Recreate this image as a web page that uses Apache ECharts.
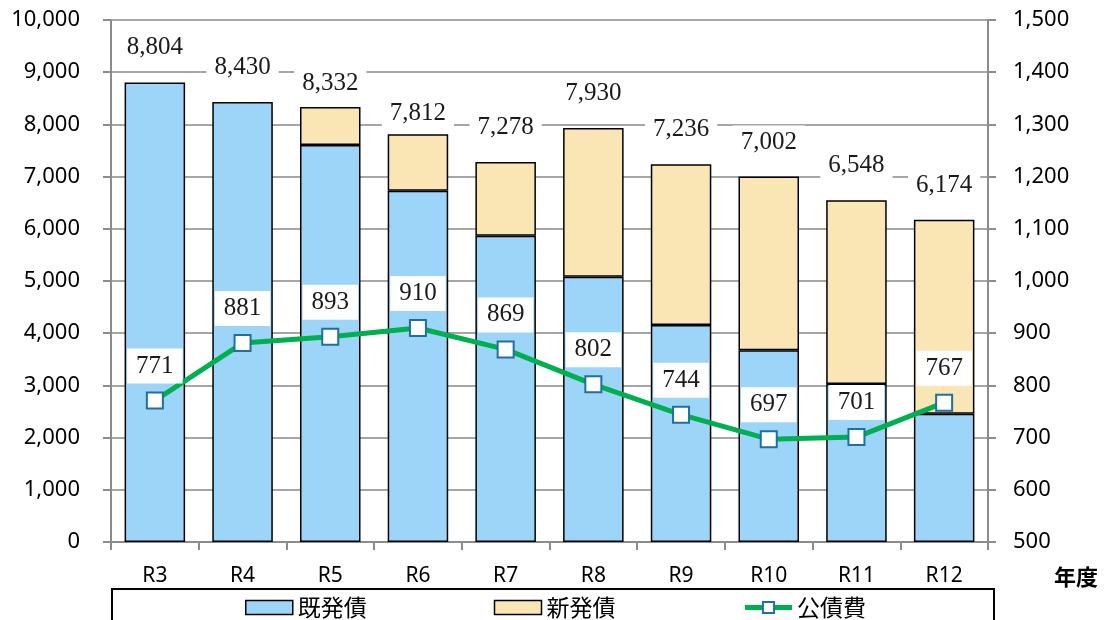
<!DOCTYPE html>
<html>
<head>
<meta charset="utf-8">
<script src="https://cdn.jsdelivr.net/npm/echarts@6/dist/echarts.min.js"></script>
<style>
  html, body { margin: 0; padding: 0; background: #ffffff; }
  #chart { width: 1105px; height: 620px; }
</style>
</head>
<body>
<div id="chart"></div>
<script>
// 年度
const categories = ['R3', 'R4', 'R5', 'R6', 'R7', 'R8', 'R9', 'R10', 'R11', 'R12'];
// 既発債 (left axis)
const existingDebt = [8804, 8430, 7605, 6730, 5868, 5083, 4157, 3672, 3027, 2458];
// 新発債 (left axis, stacked on 既発債)
const newDebt = [0, 0, 727, 1082, 1410, 2847, 3079, 3330, 3521, 3716];
// 残高合計 labels above each stack
const totals = [8804, 8430, 8332, 7812, 7278, 7930, 7236, 7002, 6548, 6174];
// 公債費 (right axis)
const debtService = [771, 881, 893, 910, 869, 802, 744, 697, 701, 767];

const leftTicks = { min: 0, max: 10000, interval: 1000 };
const rightTicks = { min: 500, max: 1500, interval: 100 };

const fmt = v => Number(v).toLocaleString('en-US');
const serifFont = '"Liberation Serif", "DejaVu Serif", serif';
const sansFont = '"Noto Sans", "Liberation Sans", sans-serif';
const cjkFont = '"Noto Sans CJK JP", "Noto Sans", sans-serif';
const axisGray = '#8c8c8c';

// a couple of total labels sit a little lower to stay clear of their neighbours
const totalLabelShift = { 2: 11, 3: 14 };

const chart = echarts.init(document.getElementById('chart'));
chart.setOption({
  animation: false,
  backgroundColor: '#ffffff',
  textStyle: { fontFamily: sansFont },
  grid: {
    left: 111, right: 117, top: 20, bottom: 78,
    show: true, borderColor: '#000000', borderWidth: 2, backgroundColor: 'transparent'
  },
  legend: {
    data: [
      { name: '既発債', icon: 'rect' },
      { name: '新発債', icon: 'rect' },
      {
        name: '公債費',
        lineStyle: { color: '#00b050', width: 5 },
        itemStyle: { color: '#ffffff', borderColor: '#1f6fa0', borderWidth: 2 }
      }
    ],
    left: 240, top: 591,
    itemWidth: 47, itemHeight: 14, itemGap: 127,
    itemStyle: { borderWidth: 1.5, borderColor: '#000000' },
    textStyle: { fontFamily: cjkFont, fontSize: 23, color: '#000000' }
  },
  xAxis: {
    type: 'category',
    data: categories,
    axisLine: { lineStyle: { color: axisGray, width: 2 } },
    axisTick: { show: true, length: 8, lineStyle: { color: axisGray, width: 2 } },
    axisLabel: { fontSize: 21, color: '#000000', margin: 24, fontFamily: sansFont }
  },
  yAxis: [
    {
      type: 'value',
      min: leftTicks.min, max: leftTicks.max, interval: leftTicks.interval,
      axisLine: { show: true, lineStyle: { color: axisGray, width: 2 } },
      axisTick: { show: true, length: 8, lineStyle: { color: axisGray, width: 2 } },
      splitLine: { show: true, lineStyle: { color: '#a6a6a6', width: 2 } },
      axisLabel: { fontSize: 22, color: '#000000', margin: 31, formatter: fmt, fontFamily: sansFont }
    },
    {
      type: 'value',
      position: 'right',
      min: rightTicks.min, max: rightTicks.max, interval: rightTicks.interval,
      axisLine: { show: true, lineStyle: { color: axisGray, width: 2 } },
      axisTick: { show: true, length: 8, lineStyle: { color: axisGray, width: 2 } },
      splitLine: { show: false },
      axisLabel: { fontSize: 22, color: '#000000', margin: 25, formatter: fmt, fontFamily: sansFont }
    }
  ],
  series: [
    {
      name: '既発債',
      type: 'bar',
      stack: 'debt',
      yAxisIndex: 0,
      barWidth: '69%',
      data: existingDebt,
      itemStyle: { color: '#9dd5f8', borderColor: '#000000', borderWidth: 1.5 },
      z: 2
    },
    {
      name: '新発債',
      type: 'bar',
      stack: 'debt',
      yAxisIndex: 0,
      barWidth: '69%',
      data: newDebt.map((v, i) => ({
        value: v,
        itemStyle: v === 0 ? { borderWidth: 0 } : {},
        label: { offset: [0, totalLabelShift[i] || 0] }
      })),
      itemStyle: { color: '#fae5b4', borderColor: '#000000', borderWidth: 1.5 },
      label: {
        show: true,
        position: 'top',
        distance: 18,
        formatter: p => fmt(totals[p.dataIndex]),
        fontFamily: serifFont,
        fontSize: 25,
        color: '#1a1a1a',
        backgroundColor: '#ffffff',
        padding: [4, 8],
        lineHeight: 25
      },
      z: 2
    },
    {
      name: '公債費',
      type: 'line',
      yAxisIndex: 1,
      data: debtService,
      symbol: 'rect',
      symbolSize: 16,
      lineStyle: { color: '#00b050', width: 5 },
      itemStyle: { color: '#ffffff', borderColor: '#1f6fa0', borderWidth: 2 },
      label: {
        show: true,
        position: 'top',
        distance: 8,
        formatter: p => fmt(p.value),
        fontFamily: serifFont,
        fontSize: 25,
        color: '#1a1a1a',
        backgroundColor: '#ffffff',
        padding: [5, 9],
        lineHeight: 25
      },
      z: 5
    }
  ],
  graphic: [
    {
      type: 'rect',
      shape: { x: 112, y: 589, width: 882, height: 60 },
      style: { fill: 'none', stroke: '#000000', lineWidth: 2 },
      silent: true
    },
    {
      type: 'text',
      left: 1054, top: 566,
      style: { text: '年度', font: 'bold 22px "Noto Sans CJK JP", sans-serif', fill: '#000000' }
    }
  ]
});
</script>
</body>
</html>
